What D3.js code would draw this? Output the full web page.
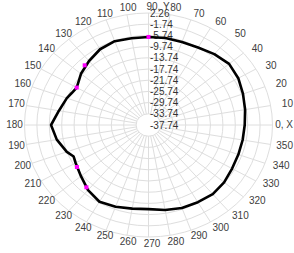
<!DOCTYPE html>
<html>
<head>
<meta charset="utf-8">
<script src="https://cdn.jsdelivr.net/npm/d3@7"></script>
<style>
  body { margin: 0; background: #fff; }
  svg { display: block; font-family: "Liberation Sans", Arial, sans-serif; }
</style>
</head>
<body>
<div id="chart"></div>
<script>
// radial tick labels (dB), centre to rim
const radialTicks = [-37.74, -33.74, -29.74, -25.74, -21.74, -17.74, -13.74, -9.74, -5.74, -1.74, 2.26];
// angle tick labels
const angleTicks = d3.range(0, 360, 10);
const angleSuffix = {0: ", X", 90: ", Y"};

// pattern
const angles = [0, 10, 20, 30, 40, 50, 60, 70, 80, 90, 100, 110, 120, 130, 140, 150, 155, 160, 170,
                180, 190, 200, 205, 210, 220, 230, 240, 250, 260, 270, 280, 290, 300, 310, 320, 330, 340, 350];
const gains = [-6.7, -6.1, -5.3, -4.3, -3.8, -4.7, -5.8, -6.2, -6.2, -6.3, -6.3, -5.9, -6.5, -7.9, -9.3, -11.0, -10.5, -9.7, -8.4,
               -6.3, -7.7, -9.7, -11.1, -10.6, -9.3, -7.4, -6.1, -6.7, -7.4, -7.7, -6.9, -6.2, -5.9, -5.5, -5.9, -6.6, -6.9, -6.9];

// highlighted points
const markAngles = [90, 134, 150, 213, 228];
const markGains = [-6.3, -8.1, -11.0, -10.2, -7.8];

const width = 294, height = 253;
const cx = 148.5, cy = 125, rx = 124, ry = 112;

const svg = d3.select("#chart")
    .append("svg")
    .attr("width", width)
    .attr("height", height);

const r = d3.scaleLinear()
    .domain([radialTicks[0], radialTicks[radialTicks.length - 1]])
    .range([0, 1]);

const rad = d => d * Math.PI / 180;
const px = (a, v) => cx + rx * r(v) * Math.cos(rad(a));
const py = (a, v) => cy - ry * r(v) * Math.sin(rad(a));

// grid rings
svg.append("g")
    .selectAll("ellipse")
    .data(radialTicks.slice(1))
    .enter().append("ellipse")
    .attr("cx", cx)
    .attr("cy", cy)
    .attr("rx", d => rx * r(d))
    .attr("ry", d => ry * r(d))
    .attr("fill", "none")
    .attr("stroke", "#dedede")
    .attr("stroke-width", 1);

// spokes
svg.append("g")
    .selectAll("line")
    .data(angleTicks)
    .enter().append("line")
    .attr("x1", d => px(d, radialTicks[1]))
    .attr("y1", d => py(d, radialTicks[1]))
    .attr("x2", d => px(d, radialTicks[radialTicks.length - 1]))
    .attr("y2", d => py(d, radialTicks[radialTicks.length - 1]))
    .attr("stroke", "#dedede")
    .attr("stroke-width", 1);

// angle labels
const lab = svg.append("g")
    .style("font-size", "10px")
    .attr("fill", "#404040");
angleTicks.forEach(a => {
    const lx = cx + 3.5 + (rx + 13.5) * Math.cos(rad(a));
    const ly = cy - 0.5 - (ry + 6.5) * Math.sin(rad(a));
    const t = lab.append("text")
        .attr("y", ly)
        .attr("dy", "0.35em")
        .text(a);
    const w0 = t.node().getComputedTextLength();
    if (angleSuffix[a]) t.text(a + angleSuffix[a]);
    const w = t.node().getComputedTextLength();
    let x0 = lx - w0 / 2;
    if (x0 + w > width - 1) x0 = width - 1 - w;
    t.attr("x", x0);
});

// radial labels
svg.append("g")
    .style("font-size", "10px")
    .attr("fill", "#333")
    .selectAll("text")
    .data(radialTicks)
    .enter().append("text")
    .attr("x", cx + 1.5)
    .attr("y", d => py(90, d))
    .attr("dy", "0.35em")
    .text(d => d.toFixed(2));

// pattern line
const line = d3.line()
    .x((d, i) => px(angles[i], d))
    .y((d, i) => py(angles[i], d))
    .curve(d3.curveLinearClosed);

svg.append("path")
    .attr("d", line(gains))
    .attr("fill", "none")
    .attr("stroke", "#000")
    .attr("stroke-width", 2.6)
    .attr("stroke-linejoin", "round");

// markers
svg.append("g")
    .selectAll("rect")
    .data(markGains)
    .enter().append("rect")
    .attr("x", (d, i) => px(markAngles[i], d) - 2)
    .attr("y", (d, i) => py(markAngles[i], d) - 2)
    .attr("width", 4)
    .attr("height", 4)
    .attr("fill", "#ff00ff");
</script>
</body>
</html>
